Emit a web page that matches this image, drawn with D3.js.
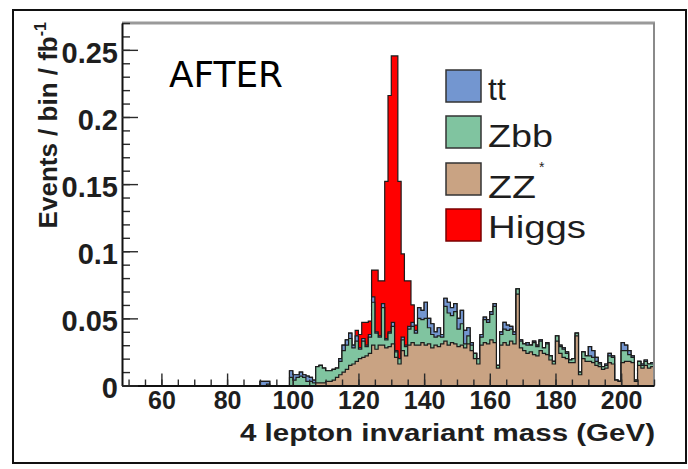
<!DOCTYPE html>
<html>
<head>
<meta charset="utf-8">
<script src="https://cdn.jsdelivr.net/npm/d3@7"></script>
<style>
  body { margin: 0; background: #fff; }
  svg { display: block; }
</style>
</head>
<body>
<script>
// Histogram binning of the 4-lepton invariant mass (GeV): 1 GeV bins from 48 to 210
const massLo = 48, massHi = 210, binWidth = 1;

// Events / bin / fb^-1 per process; each row holds ten consecutive bins (48-57, 58-67, ...)
const zz = [
  0, 0, 0, 0, 0, 0, 0, 0, 0, 0,
  0, 0, 0, 0, 0, 0, 0, 0, 0, 0,
  0, 0, 0, 0, 0, 0, 0, 0, 0, 0,
  0, 0, 0, 0, 0, 0, 0, 0, 0, 0,
  0, 0, 0, 0, 0, 0, 0, 0, 0, 0,
  0, 0, 0, 0, 0, 0, 0, 0, 0, .002,
  .002, .002, .003, .003, .004, .006, .008, .010, .012, .015,
  .016, .018, .020, .021, .022, .024, .030, .027, .030, .030,
  .028, .029, .031, .021, .016, .026, .022, .030, .032, .030,
  .030, .032, .030, .031, .028, .030, .029, .031, .033, .030,
  .032, .031, .029, .030, .028, .031, .026, .020, .016, .030,
  .032, .031, .034, .032, .013, .030, .032, .030, .033, .031,
  .068, .028, .026, .024, .025, .023, .022, .026, .024, .023,
  .019, .016, .033, .024, .021, .020, .017, .017, .037, .008,
  .020, .018, .018, .017, .015, .014, .012, .013, .017, .016,
  .004, .003, .017, .018, .018, .017, .003, .015, .013, .015,
  .013, .014
];
const zbb = [
  0, 0, 0, 0, 0, 0, 0, 0, 0, 0,
  0, 0, 0, 0, 0, 0, 0, 0, 0, 0,
  0, 0, 0, 0, 0, 0, 0, 0, 0, 0,
  0, 0, 0, 0, 0, 0, 0, 0, 0, 0,
  0, 0, 0, 0, .001, 0, 0, 0, 0, 0,
  0, .006, .004, .006, .007, .006, .003, .003, .002, .012,
  .013, .011, .008, .008, .008, .007, .010, .016, .018, .020,
  .012, .015, .007, .012, .007, .012, .032, .012, .006, .028,
  .006, .010, .013, .004, .004, .008, .007, .012, .012, .009,
  .020, .017, .020, .012, .010, .006, .008, .005, .026, .024,
  .020, .024, .013, .016, .003, .006, .004, .004, .004, .006,
  .017, .016, .019, .027, .002, .008, .010, .011, .009, .007,
  .004, .005, .005, .006, .005, .009, .007, .007, .004, .008,
  .003, .002, .004, .005, .006, .004, .002, .003, .002, .002,
  .005, .004, .004, .004, .003, .002, .002, .002, .005, .005,
  0, 0, .009, .008, .005, .004, .001, .003, .002, .003,
  .003, .002
];
const ttbar = [
  0, 0, 0, 0, 0, 0, 0, 0, 0, 0,
  0, 0, 0, 0, 0, 0, 0, 0, 0, 0,
  0, 0, 0, 0, 0, 0, 0, 0, 0, 0,
  0, 0, 0, 0, 0, 0, 0, 0, 0, 0,
  0, 0, .003, .003, .002, 0, 0, 0, 0, 0,
  0, .005, .004, .002, .003, .002, .004, .003, .002, 0,
  0, 0, 0, 0, 0, 0, .002, .004, .004, .004,
  .002, .004, .001, .002, .001, .002, .004, .001, .001, .003,
  .001, .001, .003, .001, 0, .002, .001, .002, .003, .002,
  .008, .007, .012, .007, .008, .004, .006, .002, .006, .008,
  .006, .006, .008, .010, .010, .006, .002, 0, 0, .002,
  .002, .002, .002, .002, 0, .002, .005, .004, .002, .002,
  0, .001, 0, .002, 0, .001, .001, .001, 0, .001,
  0, 0, 0, .001, .001, .001, 0, 0, 0, 0,
  0, 0, .007, .005, .003, .001, 0, .001, .002, .001,
  0, 0, .006, .004, .003, .001, 0, 0, .001, .001,
  0, .001
];
const higgs = [
  0, 0, 0, 0, 0, 0, 0, 0, 0, 0,
  0, 0, 0, 0, 0, 0, 0, 0, 0, 0,
  0, 0, 0, 0, 0, 0, 0, 0, 0, 0,
  0, 0, 0, 0, 0, 0, 0, 0, 0, 0,
  0, 0, 0, 0, 0, 0, 0, 0, 0, 0,
  0, 0, 0, 0, 0, 0, 0, 0, 0, 0,
  0, 0, 0, 0, 0, 0, 0, 0, 0, 0,
  0, .004, .010, .012, .017, .010, .020, .046, .041, .017,
  .117, .176, .1985, .2195, .132, .062, .048, .034, .013, .004,
  0, 0, 0, 0, 0, 0, 0, 0, 0, 0,
  0, 0, 0, 0, 0, 0, 0, 0, 0, 0,
  0, 0, 0, 0, 0, 0, 0, 0, 0, 0,
  0, 0, 0, 0, 0, 0, 0, 0, 0, 0,
  0, 0, 0, 0, 0, 0, 0, 0, 0, 0,
  0, 0, 0, 0, 0, 0, 0, 0, 0, 0,
  0, 0, 0, 0, 0, 0, 0, 0, 0, 0,
  0, 0
];

const xMajorTicks = [60, 80, 100, 120, 140, 160, 180, 200];
const yMajorTicks = [0, 0.05, 0.1, 0.15, 0.2, 0.25];
const yTickLabels = ["0", "0.05", "0.1", "0.15", "0.2", "0.25"];
const legendNames = ["tt", "Zbb", "ZZ", "Higgs"];

// Process styles (stack order: bottom to top)
const processes = [
  { key: "zz",    fill: "#c9a383" },
  { key: "zbb",   fill: "#80c4a0" },
  { key: "tt",    fill: "#7396d0" },
  { key: "higgs", fill: "#ff0000" }
];
const legendFill = { tt: "#7396d0", Zbb: "#80c4a0", ZZ: "#c9a383", Higgs: "#ff0000" };

const W = 688, H = 469;
const svg = d3.select("body").append("svg")
  .attr("width", W).attr("height", H);

// soft edge for the printed histogram
svg.append("defs").append("filter").attr("id", "soft")
  .append("feGaussianBlur").attr("stdDeviation", 0.5);

// outer frame
svg.append("rect")
  .attr("x", 13).attr("y", 10).attr("width", 673).attr("height", 453)
  .attr("fill", "none").attr("stroke", "#111").attr("stroke-width", 2);

const frame = { left: 122, right: 654, top: 23, bottom: 385.5 };
const x = d3.scaleLinear().domain([massLo, massHi]).range([frame.left, frame.right]);
const y = d3.scaleLinear().domain([0, 0.27]).range([frame.bottom, frame.top]);

const rows = zz.map((v, i) => ({
  lo: massLo + i * binWidth,
  zz: v, zbb: zbb[i], tt: ttbar[i], higgs: higgs[i]
}));
const stack = d3.stack().keys(processes.map(p => p.key));
const layers = stack(rows);

// step outline of a cumulative histogram
function stepPoints(layer) {
  const pts = [];
  layer.forEach((d, i) => {
    const lo = rows[i].lo, hi = lo + binWidth;
    pts.push([lo, d[1]], [hi, d[1]]);
  });
  return pts;
}
const area = d3.area()
  .x(d => x(d[0]))
  .y0(y(0))
  .y1(d => y(d[1]));

const hist = svg.append("g").attr("filter", "url(#soft)");
// each cumulative sum is filled from zero; draw the largest first
for (let k = layers.length - 1; k >= 0; k--) {
  hist.append("path")
    .attr("d", area(stepPoints(layers[k])))
    .attr("fill", processes[k].fill)
    .attr("stroke", "#1c1c1c")
    .attr("stroke-width", 1.2)
    .attr("stroke-linejoin", "miter");
}

// top and right frame lines
svg.append("line")
  .attr("x1", frame.left).attr("x2", frame.right + 1)
  .attr("y1", frame.top).attr("y2", frame.top)
  .attr("stroke", "#9a9a9a").attr("stroke-width", 3);
svg.append("line")
  .attr("x1", frame.right).attr("x2", frame.right)
  .attr("y1", frame.top).attr("y2", frame.bottom)
  .attr("stroke", "#8a8a8a").attr("stroke-width", 2);

const font = "'Liberation Sans', Arial, Helvetica, sans-serif";

// x axis
const xMinor = svg.append("g").attr("transform", `translate(0,${frame.bottom})`)
  .call(d3.axisBottom(x).tickValues(d3.range(50, 211, 5)).tickSize(-6).tickFormat(""));
xMinor.select(".domain").remove();
const xAxis = svg.append("g").attr("transform", `translate(0,${frame.bottom})`)
  .call(d3.axisBottom(x).tickValues(xMajorTicks).tickSize(-12).tickSizeOuter(0).tickPadding(6)
    .tickFormat(d3.format("d")));
xAxis.select(".domain").attr("stroke", "#111").attr("stroke-width", 2);
xAxis.selectAll("text")
  .attr("font-family", font).attr("font-weight", "bold")
  .attr("font-size", 25).attr("fill", "#1e1e1e");

// y axis
const yMinor = svg.append("g").attr("transform", `translate(${frame.left},0)`)
  .call(d3.axisLeft(y).tickValues(d3.range(0, 0.2701, 0.01)).tickSize(-8).tickFormat(""));
yMinor.select(".domain").remove();
const yAxis = svg.append("g").attr("transform", `translate(${frame.left},0)`)
  .call(d3.axisLeft(y).tickValues(yMajorTicks).tickSize(-16).tickSizeOuter(0).tickPadding(4)
    .tickFormat((d, i) => yTickLabels[i]));
yAxis.select(".domain").attr("stroke", "#111").attr("stroke-width", 2);
yAxis.selectAll("text")
  .attr("font-family", font).attr("font-weight", "bold")
  .attr("font-size", 29).attr("fill", "#1e1e1e").attr("dy", "0.42em");
svg.selectAll(".tick line").attr("stroke", "#2a2a2a").attr("stroke-width", 1.4);

// axis titles
svg.append("text")
  .attr("x", 655).attr("y", 441)
  .attr("text-anchor", "end")
  .attr("font-family", font).attr("font-weight", "bold")
  .attr("font-size", 23).attr("fill", "#1e1e1e")
  .attr("textLength", 415).attr("lengthAdjust", "spacingAndGlyphs")
  .text("4 lepton invariant mass (GeV)");

const yTitle = svg.append("text")
  .attr("transform", "translate(57,22) rotate(-90)")
  .attr("text-anchor", "end")
  .attr("font-family", font).attr("font-weight", "bold")
  .attr("font-size", 26).attr("fill", "#1e1e1e");
yTitle.append("tspan").text("Events / bin / fb");
yTitle.append("tspan").attr("font-size", 16).attr("dy", -11).text("-1");

// legend
const legend = svg.append("g");
const legendTop = [70, 116, 163, 209];
legendNames.forEach((name, i) => {
  legend.append("rect")
    .attr("x", 446).attr("y", legendTop[i]).attr("width", 35).attr("height", 32)
    .attr("fill", legendFill[name])
    .attr("stroke", name === "Higgs" ? "#7a0000" : "#333").attr("stroke-width", 1.5);
});
const legendText = [
  { t: "tt",    y: 100, len: null },
  { t: "Zbb",   y: 147, len: 65 },
  { t: "ZZ",    y: 198, len: 48 },
  { t: "Higgs", y: 238, len: 98 }
];
legendText.forEach(d => {
  const t = legend.append("text")
    .attr("x", 488).attr("y", d.y)
    .attr("font-family", font).attr("font-size", 32).attr("fill", "#1e1e1e")
    .text(d.t);
  if (d.len) t.attr("textLength", d.len).attr("lengthAdjust", "spacingAndGlyphs");
});
legend.append("text")
  .attr("x", 539).attr("y", 172)
  .attr("font-family", font).attr("font-size", 14).attr("fill", "#1e1e1e")
  .text("*");

// label
svg.append("text")
  .attr("x", 169).attr("y", 87)
  .attr("font-family", "'DejaVu Sans', sans-serif").attr("font-size", 35)
  .attr("fill", "#000")
  .attr("textLength", 114).attr("lengthAdjust", "spacingAndGlyphs")
  .text("AFTER");
</script>
</body>
</html>
